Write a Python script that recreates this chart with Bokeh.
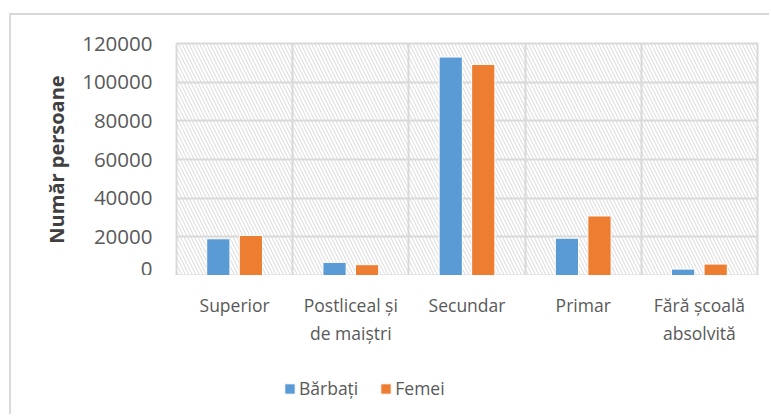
from bokeh.plotting import figure
from bokeh.layouts import column
from bokeh.models import ColumnDataSource, FixedTicker, BoxAnnotation, Legend, LegendItem, NumeralTickFormatter
from bokeh.core.properties import value
from bokeh.embed import file_html
from bokeh.resources import INLINE

categories = ["Superior", "Postliceal și\nde maiștri", "Secundar", "Primar", "Fără școală\nabsolvită"]
barbati = [19000, 6800, 113000, 19300, 3300]
femei = [20700, 5600, 109200, 30800, 5900]
y_ticks = [0, 20000, 40000, 60000, 80000, 100000, 120000]
series_names = ["Bărbați", "Femei"]
y_title = "Număr persoane"

BLUE = "#5B9BD5"
ORANGE = "#ED7D31"
GRID = "#D9D9D9"
TEXT = "#595959"
FONT = "Open Sans"

n = len(categories)
centers = [i + 0.5 for i in range(n)]
bounds = list(range(n + 1))
y_min, y_max = y_ticks[0], y_ticks[-1]

src = ColumnDataSource(dict(
    xb=[c - 0.14 for c in centers],
    xf=[c + 0.14 for c in centers],
    b=barbati,
    f=femei,
))

# ---- main chart ----
p = figure(frame_width=579, frame_height=230, x_range=(0, n), y_range=(y_min, y_max),
           output_backend="svg", toolbar_location=None, x_axis_location=None,
           min_border_left=165, min_border_right=14, min_border_top=28, min_border_bottom=2)
p.margin = (13, 0, 0, 9)
p.styles = {"border-top": "2px solid #D9D9D9", "border-left": "2px solid #D9D9D9"}
p.outline_line_color = GRID
p.outline_line_width = 2

hatch = BoxAnnotation(fill_alpha=0, line_alpha=0, hatch_pattern="\\", hatch_color=GRID,
                      hatch_scale=7, hatch_weight=1, level="image")
p.add_layout(hatch)

p.ygrid.ticker = FixedTicker(ticks=y_ticks)
p.ygrid.grid_line_color = GRID
p.ygrid.grid_line_width = 2
p.xgrid.ticker = FixedTicker(ticks=bounds)
p.xgrid.grid_line_color = GRID
p.xgrid.grid_line_width = 2

r1 = p.vbar(x="xb", top="b", width=0.2, source=src, fill_color=BLUE, line_color="white", line_width=1)
r2 = p.vbar(x="xf", top="f", width=0.2, source=src, fill_color=ORANGE, line_color="white", line_width=1)

p.yaxis.ticker = FixedTicker(ticks=y_ticks)
p.yaxis.formatter = NumeralTickFormatter(format="0")
p.yaxis.axis_line_color = None
p.yaxis.major_tick_line_color = None
p.yaxis.minor_tick_line_color = None
p.yaxis.major_label_standoff = 18
p.yaxis.major_label_text_font = FONT
p.yaxis.major_label_text_font_size = "20.5px"
p.yaxis.major_label_text_color = TEXT
p.yaxis.axis_label = y_title
p.yaxis.axis_label_text_font = FONT
p.yaxis.axis_label_text_font_style = "bold"
p.yaxis.axis_label_text_font_size = "20px"
p.yaxis.axis_label_text_color = "#404040"
p.yaxis.axis_label_standoff = 9

# ---- category labels and legend, below the chart ----
q = figure(frame_width=579, frame_height=133, x_range=p.x_range, y_range=(0, 1),
           output_backend="svg", toolbar_location=None,
           x_axis_location=None, y_axis_location=None,
           min_border_left=165, min_border_right=14, min_border_top=0, min_border_bottom=6)
q.margin = (0, 0, 0, 9)
q.styles = {"border-left": "2px solid #D9D9D9"}
q.outline_line_color = None
q.xgrid.visible = False
q.ygrid.visible = False

q.text(x=centers, y=[1] * n, text=categories, y_offset=17,
       text_align="center", text_baseline="top", text_line_height=1.2,
       text_font=value(FONT), text_font_size="17.5px", text_color=TEXT)

# legend swatches refer to hidden copies of the bar series
l1 = q.vbar(x="xb", top="b", width=0.2, source=src, fill_color=BLUE, line_color="white",
            line_width=1, visible=False)
l2 = q.vbar(x="xf", top="f", width=0.2, source=src, fill_color=ORANGE, line_color="white",
            line_width=1, visible=False)

legend = Legend(items=[LegendItem(label=series_names[0], renderers=[l1]),
                       LegendItem(label=series_names[1], renderers=[l2])],
                orientation="horizontal", location=(107, 8),
                glyph_width=13, glyph_height=13, label_standoff=3, spacing=21,
                padding=0, margin=0, border_line_alpha=0, background_fill_alpha=0,
                inactive_fill_alpha=0,
                label_text_font=FONT, label_text_font_size="17.5px", label_text_color=TEXT)
q.add_layout(legend, "center")

layout = column(p, q, spacing=0)

open("out.html", "w").write(file_html(layout, INLINE))
